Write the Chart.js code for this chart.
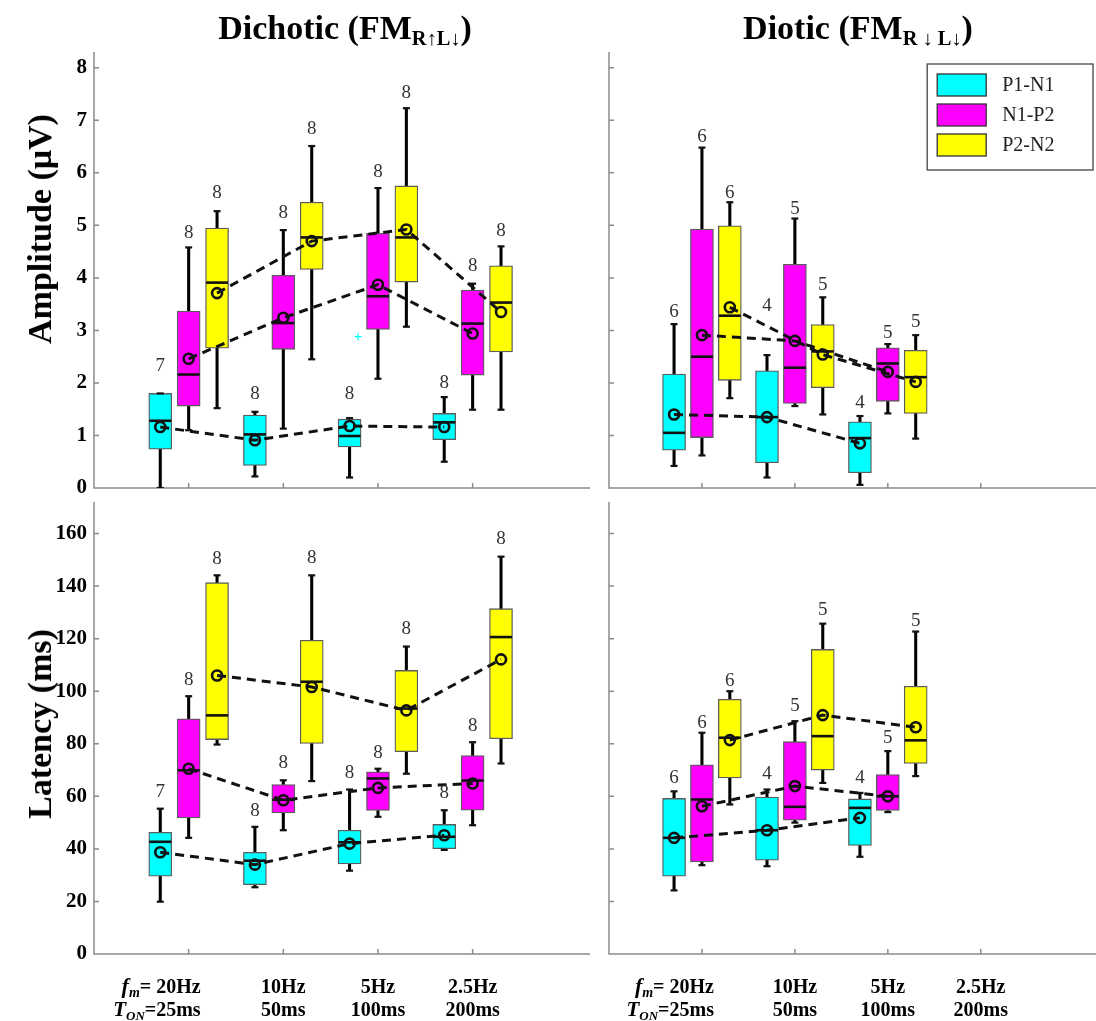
<!DOCTYPE html>
<html>
<head>
<meta charset="utf-8">
<script src="https://cdn.jsdelivr.net/npm/chart.js@4.4.0/dist/chart.umd.min.js"></script>
<style>
html,body{margin:0;padding:0;background:#fff;}
#wrap{position:relative;width:1096px;height:1021px;overflow:hidden;background:#fff;}
canvas{position:absolute;left:0;top:0;}
.t{position:absolute;font-family:"Liberation Serif","Times New Roman",serif;font-weight:bold;color:#000;white-space:nowrap;line-height:1;}
.ttl{transform:translateX(-50%);font-size:34px;}
.ttl sub{font-size:0.6em;vertical-align:-0.3em;}
.yl{transform:translate(-50%,-50%) rotate(-90deg);font-size:34px;}
</style>
</head>
<body>
<div id="wrap">
<canvas id="c0" width="1096" height="1021"></canvas>
<canvas id="c1" width="1096" height="1021"></canvas>
<canvas id="c2" width="1096" height="1021"></canvas>
<canvas id="c3" width="1096" height="1021"></canvas>
<div class="t ttl" style="left:345px;top:11px;">Dichotic (FM<sub>R↑L↓</sub>)</div>
<div class="t ttl" style="left:858px;top:11px;">Diotic (FM<sub>R ↓ L↓</sub>)</div>
<div class="t yl" style="left:40px;top:229px;">Amplitude (μV)</div>
<div class="t yl" style="left:40px;top:724px;">Latency (ms)</div>
</div>
<script>
// ---------------- data ----------------
const groups = [1, 2, 3, 4];
const seriesNames = ['P1-N1', 'N1-P2', 'P2-N2'];
const freqLabels = ['20Hz', '10Hz', '5Hz', '2.5Hz'];
const tonLabels = ['25ms', '50ms', '100ms', '200ms'];
const ampTicks = [0, 1, 2, 3, 4, 5, 6, 7, 8];
const latTicks = [0, 20, 40, 60, 80, 100, 120, 140, 160];
const ampMax = 8.3;
const latMax = 172;

// each array: [P1-N1, N1-P2, P2-N2] x [20Hz, 10Hz, 5Hz, 2.5Hz]
// Dichotic amplitude (µV)
const dichAmpQ1   = [[0.74, 0.43, 0.78, 0.92], [1.56, 2.64, 3.02, 2.15], [2.66, 4.16, 3.92, 2.59]];
const dichAmpMed  = [[1.28, 1.02, 0.99, 1.25], [2.16, 3.14, 3.65, 3.13], [3.91, 4.77, 4.77, 3.53]];
const dichAmpQ3   = [[1.80, 1.39, 1.31, 1.42], [3.37, 4.05, 4.85, 3.77], [4.95, 5.44, 5.75, 4.23]];
const dichAmpLo   = [[0.00, 0.22, 0.20, 0.50], [1.10, 1.13, 2.08, 1.49], [1.52, 2.45, 3.07, 1.49]];
const dichAmpHi   = [[1.80, 1.45, 1.33, 1.73], [4.58, 4.91, 5.71, 3.89], [5.27, 6.51, 7.23, 4.60]];
const dichAmpMean = [[1.16, 0.91, 1.18, 1.16], [2.46, 3.24, 3.87, 2.94], [3.71, 4.70, 4.92, 3.35]];
const dichAmpN    = [[7, 8, 8, 8], [8, 8, 8, 8], [8, 8, 8, 8]];
const dichAmpNAt  = [[2.32, 1.78, 1.78, 2.00], [4.86, 5.23, 6.02, 4.22], [5.61, 6.83, 7.51, 4.89]];
const dichAmpOutliers = [[null, null, 2.88, null], [null, null, null, null], [null, null, null, null]];

// Diotic amplitude (µV) (no 2.5Hz condition)
const dioAmpQ1   = [[0.72, 0.48, 0.29, null], [0.96, 1.61, 1.65, null], [2.05, 1.91, 1.42, null]];
const dioAmpMed  = [[1.05, 1.35, 0.95, null], [2.50, 2.29, 2.37, null], [3.28, 2.60, 2.11, null]];
const dioAmpQ3   = [[2.17, 2.23, 1.26, null], [4.93, 4.26, 2.67, null], [4.99, 3.11, 2.62, null]];
const dioAmpLo   = [[0.42, 0.20, 0.06, null], [0.62, 1.56, 1.42, null], [1.71, 1.40, 0.94, null]];
const dioAmpHi   = [[3.12, 2.53, 1.37, null], [6.48, 5.13, 2.74, null], [5.44, 3.63, 2.91, null]];
const dioAmpMean = [[1.40, 1.35, 0.85, null], [2.91, 2.80, 2.21, null], [3.44, 2.54, 2.02, null]];
const dioAmpN    = [[6, 4, 4, null], [6, 5, 5, null], [6, 5, 5, null]];
const dioAmpNAt  = [[3.35, 3.46, 1.61, null], [6.69, 5.32, 2.95, null], [5.62, 3.86, 3.16, null]];

// Dichotic latency (ms)
const dichLatQ1   = [[29.6, 26.4, 34.3, 40.1], [51.8, 53.7, 54.6, 54.7], [81.6, 80.1, 77.0, 81.9]];
const dichLatMed  = [[42.7, 35.5, 42.5, 44.6], [69.9, 58.7, 66.8, 66.0], [90.8, 103.6, 93.4, 120.6]];
const dichLatQ3   = [[46.3, 38.7, 47.1, 49.3], [89.5, 64.5, 69.3, 75.5], [141.3, 119.4, 107.9, 131.4]];
const dichLatLo   = [[19.9, 25.4, 31.7, 39.6], [44.2, 47.1, 52.2, 49.0], [79.7, 65.8, 68.6, 72.5]];
const dichLatHi   = [[55.3, 48.4, 62.6, 54.7], [98.1, 66.1, 70.5, 80.6], [144.1, 144.1, 117.0, 151.2]];
const dichLatMean = [[38.7, 34.0, 42.0, 45.2], [70.5, 58.5, 63.2, 64.9], [106.0, 101.6, 92.7, 112.1]];
const dichLatN    = [[7, 8, 8, 8], [8, 8, 8, 8], [8, 8, 8, 8]];
const dichLatNAt  = [[61.6, 54.6, 69.0, 61.3], [104.2, 72.8, 76.6, 86.7], [150.2, 150.5, 123.8, 157.8]];

// Diotic latency (ms)
const dioLatQ1   = [[29.6, 35.7, 41.3, null], [35.0, 50.9, 54.6, null], [67.0, 70.0, 72.5, null]];
const dioLatMed  = [[44.2, 47.1, 55.6, null], [58.8, 56.0, 60.0, null], [82.3, 82.9, 81.3, null]];
const dioLatQ3   = [[59.2, 59.7, 59.0, null], [72.0, 80.8, 68.3, null], [96.9, 115.9, 101.9, null]];
const dioLatLo   = [[24.2, 33.4, 37.0, null], [33.8, 50.0, 54.0, null], [56.9, 65.1, 67.7, null]];
const dioLatHi   = [[61.9, 62.6, 61.3, null], [84.2, 88.6, 77.2, null], [100.0, 125.7, 122.7, null]];
const dioLatMean = [[44.2, 47.1, 51.8, null], [56.2, 63.9, 60.0, null], [81.4, 90.9, 86.3, null]];
const dioLatN    = [[6, 4, 4, null], [6, 5, 5, null], [6, 5, 5, null]];
const dioLatNAt  = [[67.0, 68.3, 67.0, null], [88.0, 94.3, 82.3, null], [103.8, 130.8, 126.7, null]];

// ---------------- styles ----------------
const COLORS = ['#00FFFF', '#FF00FF', '#FFFF00'];
const OFFSETS = [-0.3, 0, 0.3];
const X_MAX = 5.24;
const SERIF = '"Liberation Serif", "Times New Roman", serif';
const AXIS_COLOR = '#8c8c8c';

function buildDatasets(st) {
  const ds = [];
  for (let s = 0; s < 3; s++) {
    const idx = groups.map((g, i) => i).filter(i => st.q1[s][i] != null);
    const xs = i => groups[i] + OFFSETS[s];
    ds.push({
      type: 'bar', grouped: false, barPercentage: 1, categoryPercentage: 1, maxBarThickness: 2.4,
      data: idx.flatMap(i => [{x: xs(i), y: [st.lo[s][i], st.q1[s][i]]}, {x: xs(i), y: [st.q3[s][i], st.hi[s][i]]}]),
      backgroundColor: '#000', borderWidth: 0, order: 6
    });
    ds.push({
      type: 'bar', grouped: false, barPercentage: 1, categoryPercentage: 1, maxBarThickness: 23,
      data: idx.map(i => ({x: xs(i), y: [st.q1[s][i], st.q3[s][i]]})),
      backgroundColor: COLORS[s], borderColor: '#5c5c5c', borderWidth: 1.3, borderSkipped: false, order: 5
    });
    ds.push({
      type: 'line', showLine: false,
      data: idx.map(i => ({x: xs(i), y: st.med[s][i]})),
      pointStyle: 'line', pointRadius: 11, pointBorderWidth: 2.6, pointBorderColor: '#111', borderColor: '#111', order: 4
    });
    ds.push({
      type: 'line', showLine: false,
      data: idx.flatMap(i => [{x: xs(i), y: st.lo[s][i]}, {x: xs(i), y: st.hi[s][i]}]),
      pointStyle: 'line', pointRadius: 3.5, pointBorderWidth: 2.2, pointBorderColor: '#111', borderColor: '#111', order: 4
    });
    if (st.out) {
      const oi = idx.filter(i => st.out[s][i] != null);
      ds.push({
        type: 'line', showLine: false,
        data: oi.map(i => ({x: xs(i) + 0.09, y: st.out[s][i]})),
        pointStyle: 'cross', pointRadius: 3.5, pointBorderWidth: 1.2, pointBorderColor: COLORS[s], order: 4
      });
    }
  }
  for (let s = 0; s < 3; s++) {
    const idx = groups.map((g, i) => i).filter(i => st.mean[s][i] != null);
    ds.push({
      type: 'line',
      data: idx.map(i => ({x: groups[i] + OFFSETS[s], y: st.mean[s][i]})),
      borderColor: '#111', borderWidth: 3, borderDash: [9, 6], tension: 0, fill: false,
      pointStyle: 'circle', pointRadius: 5, pointBorderWidth: 2.6, pointBorderColor: '#111',
      pointBackgroundColor: 'rgba(0,0,0,0)', order: 1
    });
  }
  return ds;
}

function richRight(ctx, parts, xRight, base) {
  let w = 0;
  parts.forEach(p => { ctx.font = p.font; w += ctx.measureText(p.t).width; });
  let cx = xRight - w;
  ctx.textAlign = 'left';
  parts.forEach(p => { ctx.font = p.font; ctx.fillText(p.t, cx, base + (p.dy || 0)); cx += ctx.measureText(p.t).width; });
}

function makePlugin(st, cfg) {
  return {
    id: 'panelDeco',
    beforeDatasetsDraw(chart) {
      const {ctx, chartArea: a, scales: {x, y}} = chart;
      ctx.save();
      ctx.strokeStyle = AXIS_COLOR; ctx.lineWidth = 1.5;
      ctx.beginPath();
      ctx.moveTo(a.left, a.top); ctx.lineTo(a.left, a.bottom); ctx.lineTo(a.right, a.bottom);
      cfg.yTicks.forEach(v => { const py = y.getPixelForValue(v); ctx.moveTo(a.left, py); ctx.lineTo(a.left + 5, py); });
      groups.forEach(g => { const px = x.getPixelForValue(g); ctx.moveTo(px, a.bottom); ctx.lineTo(px, a.bottom - 5); });
      ctx.stroke();
      ctx.restore();
    },
    afterDraw(chart) {
      const {ctx, chartArea: a, scales: {x, y}} = chart;
      ctx.save();
      // n labels
      ctx.fillStyle = '#333'; ctx.font = '19px ' + SERIF; ctx.textAlign = 'center'; ctx.textBaseline = 'middle';
      for (let s = 0; s < 3; s++) groups.forEach((g, i) => {
        if (st.n[s][i] == null) return;
        ctx.fillText(String(st.n[s][i]), x.getPixelForValue(g + OFFSETS[s]), y.getPixelForValue(st.nAt[s][i]));
      });
      // x labels
      if (cfg.xLabels) {
        ctx.fillStyle = '#000'; ctx.textBaseline = 'alphabetic';
        const b1 = a.bottom + 39, b2 = a.bottom + 62;
        groups.forEach((g, i) => {
          const px = x.getPixelForValue(g);
          if (i === 0) {
            richRight(ctx, [
              {t: 'f', font: 'italic bold 22px ' + SERIF},
              {t: 'm', font: 'italic bold 14px ' + SERIF, dy: 4},
              {t: '= ' + freqLabels[i], font: 'bold 20px ' + SERIF}], px + 12, b1);
            richRight(ctx, [
              {t: 'T', font: 'italic bold 21px ' + SERIF},
              {t: 'ON', font: 'italic bold 13px ' + SERIF, dy: 4},
              {t: '=' + tonLabels[i], font: 'bold 20px ' + SERIF}], px + 12, b2);
          } else {
            ctx.font = 'bold 20px ' + SERIF; ctx.textAlign = 'center';
            ctx.fillText(freqLabels[i], px, b1);
            ctx.fillText(tonLabels[i], px, b2);
          }
        });
      }
      // legend
      if (cfg.legend) {
        const lx = x.getPixelForValue(3 + OFFSETS[2]) + 11.5, rx = 1093, ty = 64, by = 170;
        ctx.fillStyle = '#fff'; ctx.fillRect(lx, ty, rx - lx, by - ty);
        ctx.strokeStyle = '#444'; ctx.lineWidth = 1.3; ctx.strokeRect(lx, ty, rx - lx, by - ty);
        seriesNames.forEach((nm, s) => {
          const cy = ty + 21 + s * 30;
          ctx.fillStyle = COLORS[s]; ctx.fillRect(lx + 10, cy - 11, 49, 22);
          ctx.strokeStyle = '#333'; ctx.lineWidth = 1.3; ctx.strokeRect(lx + 10, cy - 11, 49, 22);
          ctx.fillStyle = '#222'; ctx.font = '20px ' + SERIF; ctx.textAlign = 'left'; ctx.textBaseline = 'middle';
          ctx.fillText(nm, lx + 75, cy + 1);
        });
      }
      ctx.restore();
    }
  };
}

function buildPanel(id, st, cfg) {
  new Chart(document.getElementById(id), {
    type: 'bar',
    data: {datasets: buildDatasets(st)},
    options: {
      responsive: false, animation: false, events: [],
      layout: {padding: cfg.pad, autoPadding: false},
      plugins: {legend: {display: false}, tooltip: {enabled: false}, title: {display: false}},
      scales: {
        x: {
          type: 'linear', min: 0, max: X_MAX, offset: false,
          afterFit: s => { s.height = 20; },
          grid: {display: false, drawTicks: false}, border: {display: false},
          ticks: {display: false}
        },
        y: {
          type: 'linear', min: 0, max: cfg.yMax,
          afterBuildTicks: s => { s.ticks = cfg.yTicks.map(v => ({value: v})); },
          afterFit: s => { s.width = cfg.yW; },
          grid: {display: false, drawTicks: false}, border: {display: false},
          ticks: {display: cfg.yLabels, color: '#000', padding: 7, font: {family: SERIF, weight: 'bold', size: 21}}
        }
      }
    },
    plugins: [makePlugin(st, cfg)]
  });
}

buildPanel('c0',
  {q1: dichAmpQ1, med: dichAmpMed, q3: dichAmpQ3, lo: dichAmpLo, hi: dichAmpHi, mean: dichAmpMean, n: dichAmpN, nAt: dichAmpNAt, out: dichAmpOutliers},
  {pad: {left: 0, right: 506, top: 52, bottom: 513}, yW: 94, yMax: ampMax, yTicks: ampTicks, yLabels: true, xLabels: false, legend: false});
buildPanel('c1',
  {q1: dioAmpQ1, med: dioAmpMed, q3: dioAmpQ3, lo: dioAmpLo, hi: dioAmpHi, mean: dioAmpMean, n: dioAmpN, nAt: dioAmpNAt},
  {pad: {left: 589, right: 0, top: 52, bottom: 513}, yW: 20, yMax: ampMax, yTicks: ampTicks, yLabels: false, xLabels: false, legend: true});
buildPanel('c2',
  {q1: dichLatQ1, med: dichLatMed, q3: dichLatQ3, lo: dichLatLo, hi: dichLatHi, mean: dichLatMean, n: dichLatN, nAt: dichLatNAt},
  {pad: {left: 0, right: 506, top: 502, bottom: 47}, yW: 94, yMax: latMax, yTicks: latTicks, yLabels: true, xLabels: true, legend: false});
buildPanel('c3',
  {q1: dioLatQ1, med: dioLatMed, q3: dioLatQ3, lo: dioLatLo, hi: dioLatHi, mean: dioLatMean, n: dioLatN, nAt: dioLatNAt},
  {pad: {left: 589, right: 0, top: 502, bottom: 47}, yW: 20, yMax: latMax, yTicks: latTicks, yLabels: false, xLabels: true, legend: false});
</script>
</body>
</html>
